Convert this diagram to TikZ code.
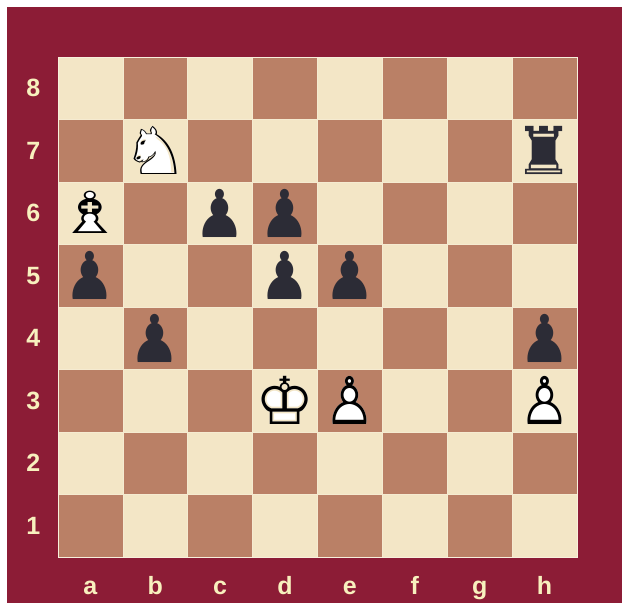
\documentclass[tikz,border=0pt]{standalone}
\usepackage{fontspec}
\setmainfont{Liberation Sans}
\newfontfamily\chessfont{DejaVu Sans}
\definecolor{framewood}{RGB}{140,28,54}
\definecolor{lightsq}{RGB}{243,230,198}
\definecolor{darksq}{RGB}{186,128,102}
\definecolor{coordtext}{RGB}{248,240,190}
\definecolor{blackpiece}{RGB}{44,44,54}
\tikzset{
  coordlabel/.style={text=coordtext, font=\bfseries\fontsize{25}{25}\selectfont, inner sep=0pt},
  piecebase/.style={inner sep=0pt, font=\chessfont\fontsize{66}{66}\selectfont},
  whitefill/.style={piecebase, text=white},
  whiteline/.style={piecebase, text=black},
  blackman/.style={piecebase, text=blackpiece},
  pawnshape/.style={xscale=0.86},
  knightshape/.style={xscale=1.15},
  bishopshape/.style={font=\chessfont\fontsize{58}{58}\selectfont, xscale=1.3},
}
\begin{document}
\begin{tikzpicture}[x=1pt,y=-1pt]
\useasboundingbox (0,0) rectangle (625,605);
\fill[white] (0,0) rectangle (625,605);
% wooden frame
\fill[framewood] (7,7) rectangle (622,603);
\begin{scope}[shift={(58,557)}, x=64.875pt, y=62.5pt]
  % squares
  \foreach \f in {1,...,8}{
    \foreach \r in {1,...,8}{
      \pgfmathtruncatemacro\sqparity{mod(\f+\r,2)}
      \ifnum\sqparity=0
        \fill[darksq] (\f-1,\r-1) rectangle (\f,\r);
      \else
        \fill[lightsq] (\f-1,\r-1) rectangle (\f,\r);
      \fi
    }
  }
  % thin joints between squares
  \foreach \i in {1,...,7}{
    \draw[lightsq!80!white, line width=0.7pt] (\i,0) -- (\i,8);
    \draw[lightsq!80!white, line width=0.7pt] (0,\i) -- (8,\i);
  }
  \draw[lightsq!60!white, line width=1pt] (0,0) rectangle (8,8);
  % rank numbers
  \foreach \r in {1,...,8}{
    \node[coordlabel] (rank\r) at (-0.38,\r-0.5) {\r};
  }
  % file letters
  \foreach \f/\l in {1/a,2/b,3/c,4/d,5/e,6/f,7/g,8/h}{
    \node[coordlabel, anchor=base] (file\l) at (\f-0.5,-0.6) {\l};
  }
  % white pieces: solid white body under the outline glyph
  \node[whitefill, knightshape] (wNbody) at (1.5,6.5) {♞};
  \node[whiteline, knightshape] (wN)     at (1.5,6.5) {♘};
  \node[whitefill, bishopshape] (wBbody) at (0.5,5.52) {♝};
  \node[whiteline, bishopshape] (wB)     at (0.5,5.52) {♗};
  \node[whitefill] (wKbody) at (3.5,2.5) {♚};
  \node[whiteline] (wK)     at (3.5,2.5) {♔};
  \node[whitefill, pawnshape] (wPe3body) at (4.5,2.5) {♟};
  \node[whiteline, pawnshape] (wPe3)     at (4.5,2.5) {♙};
  \node[whitefill, pawnshape] (wPh3body) at (7.5,2.5) {♟};
  \node[whiteline, pawnshape] (wPh3)     at (7.5,2.5) {♙};
  % black pieces
  \node[blackman] (bR)   at (7.5,6.5) {♜};
  \node[blackman, pawnshape] (bPc6) at (2.5,5.5) {♟};
  \node[blackman, pawnshape] (bPd6) at (3.5,5.5) {♟};
  \node[blackman, pawnshape] (bPa5) at (0.5,4.5) {♟};
  \node[blackman, pawnshape] (bPd5) at (3.5,4.5) {♟};
  \node[blackman, pawnshape] (bPe5) at (4.5,4.5) {♟};
  \node[blackman, pawnshape] (bPb4) at (1.5,3.5) {♟};
  \node[blackman, pawnshape] (bPh4) at (7.5,3.5) {♟};
\end{scope}
\end{tikzpicture}
\end{document}
